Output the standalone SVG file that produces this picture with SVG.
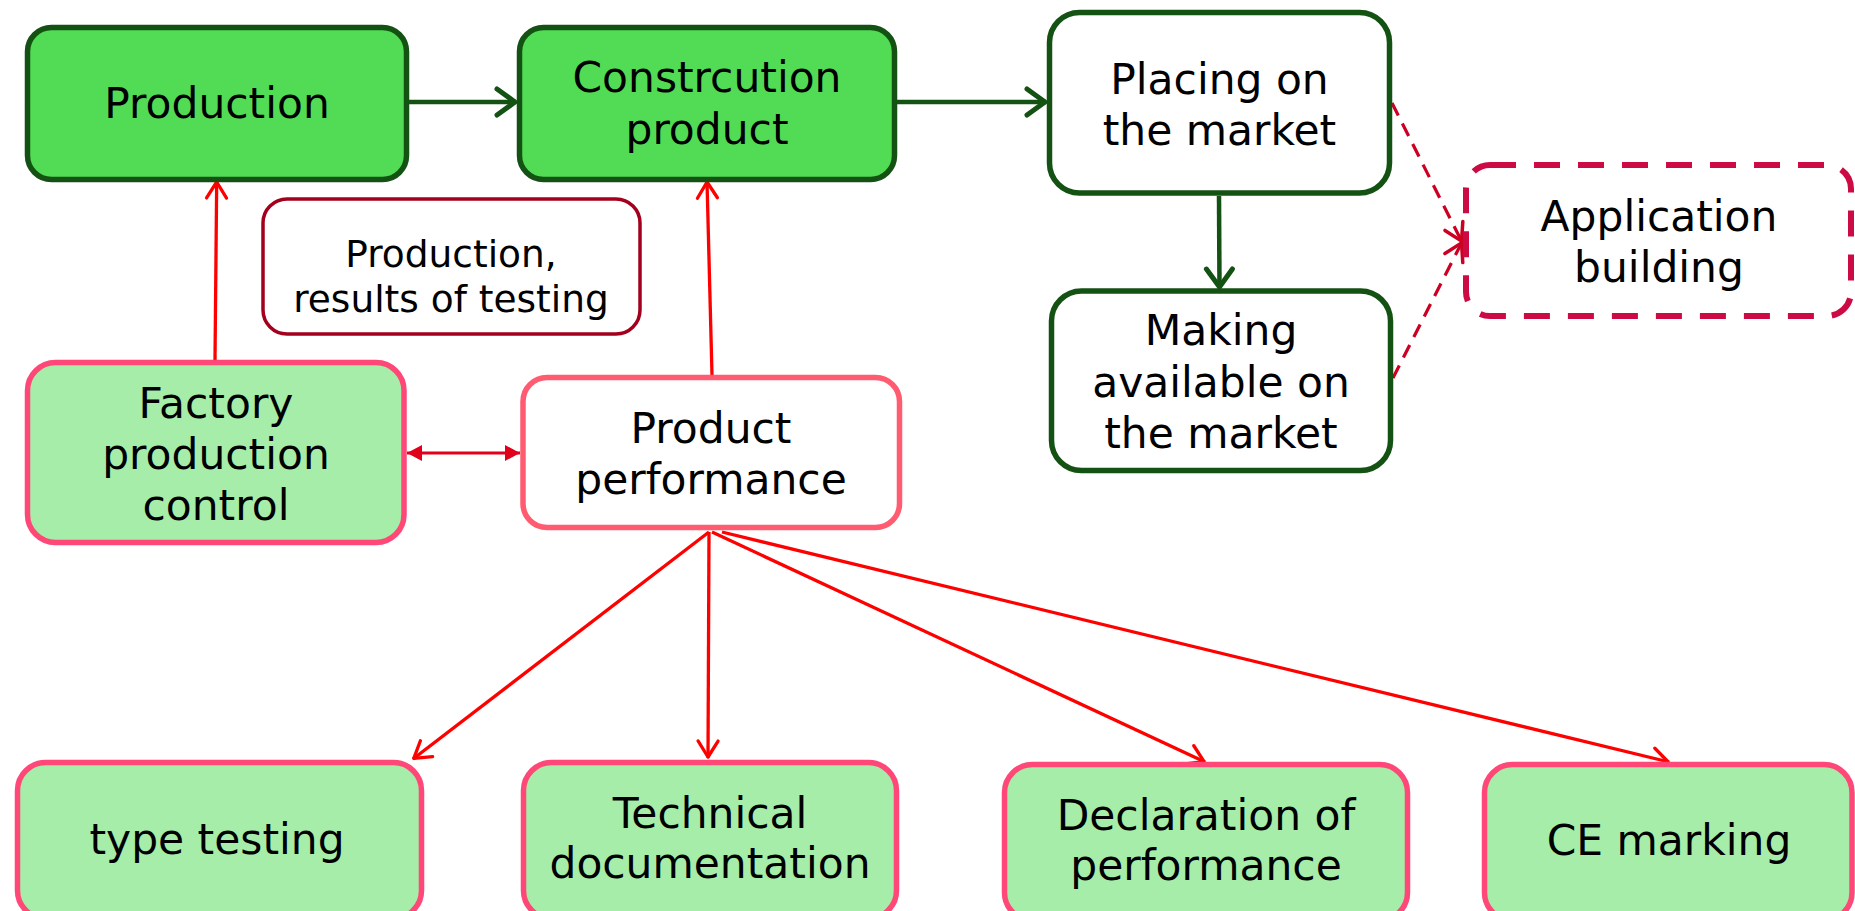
<svg xmlns="http://www.w3.org/2000/svg" width="1855" height="911" viewBox="0 0 1855 911">
<style>
text{font-family:"DejaVu Sans","Verdana",sans-serif;fill:#000;text-anchor:middle}
.big{font-size:42.4px}
.small{font-size:37.5px}
.dark{fill:#52dc55;stroke:#145214;stroke-width:5.5}
.white{fill:#fff;stroke:#145214;stroke-width:5.5}
.light{fill:#a6eda9;stroke:#ff4878;stroke-width:5.5}
.pp{fill:#fff;stroke:#ff5c72;stroke-width:5.5}
.note{fill:#fff;stroke:#a3001e;stroke-width:3.5}
.app{fill:#fff;stroke:#cc0a44;stroke-width:6;stroke-dasharray:26 18}
.g{stroke:#145214;stroke-width:4.5;fill:none}
.r{stroke:#ff0000;stroke-width:3.3;fill:none}
.rd{stroke:#e0001b;stroke-width:3;fill:none}
.d{stroke:#cc0022;stroke-width:3.2;fill:none;stroke-dasharray:14 9}
</style>
<defs>
<marker id="ag" markerUnits="userSpaceOnUse" orient="auto" refX="0" refY="0" overflow="visible">
<path d="M-19,-13 L-1,0 L-19,13" fill="none" stroke="#145214" stroke-width="5" stroke-linecap="round" stroke-linejoin="round"/>
</marker>
<marker id="ar" markerUnits="userSpaceOnUse" orient="auto" refX="0" refY="0" overflow="visible">
<path d="M-17,-10 L-1,0 L-17,10" fill="none" stroke="#ff0000" stroke-width="3.3" stroke-linecap="round" stroke-linejoin="round"/>
</marker>
<marker id="ad" markerUnits="userSpaceOnUse" orient="auto" refX="0" refY="0" overflow="visible">
<path d="M-18,-10 L-1,0 L-18,10" fill="none" stroke="#cc0022" stroke-width="3.5" stroke-linecap="round" stroke-linejoin="round"/>
</marker>
<marker id="af" markerUnits="userSpaceOnUse" orient="auto-start-reverse" refX="0" refY="0" overflow="visible">
<path d="M-15,-8 L0,0 L-15,8 Z" fill="#e0001b"/>
</marker>
</defs>
<g id="connectors">
<line class="g" x1="409" y1="102" x2="516" y2="102" marker-end="url(#ag)"/>
<line class="g" x1="897" y1="102" x2="1046" y2="102" marker-end="url(#ag)"/>
<line class="g" x1="1219" y1="196" x2="1219.5" y2="288" marker-end="url(#ag)"/>
<line class="r" x1="215" y1="360" x2="216.7" y2="181" marker-end="url(#ar)"/>
<line class="r" x1="712" y1="375" x2="707" y2="181" marker-end="url(#ar)"/>
<line class="rd" x1="407" y1="453" x2="520" y2="453" marker-start="url(#af)" marker-end="url(#af)"/>
<line class="d" x1="1392" y1="103" x2="1462" y2="242" marker-end="url(#ad)"/>
<line class="d" x1="1393" y1="378" x2="1462" y2="242" marker-end="url(#ad)"/>
<line class="r" x1="709" y1="532" x2="413" y2="759" marker-end="url(#ar)"/>
<line class="r" x1="709" y1="532" x2="708" y2="758" marker-end="url(#ar)"/>
<line class="r" x1="712" y1="532" x2="1205" y2="762" marker-end="url(#ar)"/>
<line class="r" x1="722" y1="532" x2="1669" y2="762" marker-end="url(#ar)"/>
</g>
<g id="production">
<rect class="dark" x="27.5" y="27.5" width="379" height="152" rx="24"/>
<text class="big" x="217" y="118">Production</text>
</g>
<g id="construction-product">
<rect class="dark" x="519.5" y="27.5" width="375" height="152" rx="24"/>
<text class="big" x="707" y="92">Constrcution</text>
<text class="big" x="707" y="144">product</text>
</g>
<g id="placing-on-market">
<rect class="white" x="1049.5" y="12.5" width="340" height="180.5" rx="30"/>
<text class="big" x="1219.5" y="94">Placing on</text>
<text class="big" x="1219.5" y="145">the market</text>
</g>
<g id="making-available">
<rect class="white" x="1051.5" y="291" width="339" height="179.5" rx="30"/>
<text class="big" x="1221" y="345">Making</text>
<text class="big" x="1221" y="397">available on</text>
<text class="big" x="1221" y="448">the market</text>
</g>
<g id="application-building">
<rect class="app" x="1466" y="165" width="385" height="151" rx="24"/>
<text class="big" x="1659" y="231">Application</text>
<text class="big" x="1659" y="282">building</text>
</g>
<g id="production-results">
<rect class="note" x="263" y="199" width="377" height="135" rx="24"/>
<text class="small" x="451" y="267">Production,</text>
<text class="small" x="451" y="312">results of testing</text>
</g>
<g id="factory-production-control">
<rect class="light" x="27.5" y="362.5" width="376.5" height="180" rx="28"/>
<text class="big" x="216" y="418">Factory</text>
<text class="big" x="216" y="469">production</text>
<text class="big" x="216" y="520">control</text>
</g>
<g id="product-performance">
<rect class="pp" x="523" y="377.5" width="376.5" height="150" rx="24"/>
<text class="big" x="711" y="443">Product</text>
<text class="big" x="711" y="494">performance</text>
</g>
<g id="type-testing">
<rect class="light" x="17.5" y="762.5" width="404" height="156" rx="28"/>
<text class="big" x="217" y="854">type testing</text>
</g>
<g id="technical-documentation">
<rect class="light" x="523.5" y="762.5" width="373" height="156" rx="28"/>
<text class="big" x="710" y="828">Technical</text>
<text class="big" x="710" y="878">documentation</text>
</g>
<g id="declaration-of-performance">
<rect class="light" x="1004.5" y="764.5" width="403" height="156" rx="28"/>
<text class="big" x="1206" y="830">Declaration of</text>
<text class="big" x="1206" y="880">performance</text>
</g>
<g id="ce-marking">
<rect class="light" x="1484.5" y="764.5" width="367.5" height="156" rx="28"/>
<text class="big" x="1669" y="855">CE marking</text>
</g>
</svg>
